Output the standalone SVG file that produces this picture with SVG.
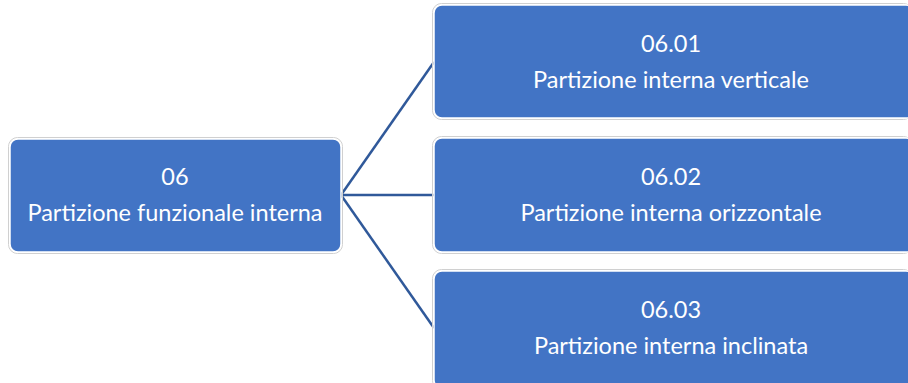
<svg xmlns="http://www.w3.org/2000/svg" width="908" height="383" viewBox="0 0 908 383">
<style>
.box{fill:#4274C5;stroke:#ffffff;stroke-width:1.5}
.halo{fill:none;stroke:#d0d0d0;stroke-width:1}
.t{font-family:Lato,"Liberation Sans",sans-serif;font-size:23.5px;fill:#ffffff;text-anchor:middle}
.c{stroke:#30599A;stroke-width:2.5;fill:none}
</style>
<rect width="908" height="383" fill="#ffffff"/>
<g id="connectors">
<line class="c" x1="341" y1="195" x2="434" y2="62"/>
<line class="c" x1="341" y1="195" x2="434" y2="195"/>
<line class="c" x1="341" y1="195" x2="434" y2="328"/>
</g>
<g id="n06">
<rect class="halo" x="8.5" y="137.5" width="334" height="116" rx="9"/>
<rect class="box" x="10" y="139" width="331" height="113" rx="8"/>
<text class="t" x="175" y="185">06</text>
<text class="t" x="175" y="221">Partizione funzionale interna</text>
</g>
<g id="n0601">
<rect class="halo" x="432.5" y="3.5" width="480" height="116" rx="9"/>
<rect class="box" x="434" y="5" width="480" height="113" rx="8"/>
<text class="t" x="671" y="52">06.01</text>
<text class="t" x="671" y="88">Partizione interna verticale</text>
</g>
<g id="n0602">
<rect class="halo" x="432.5" y="136.5" width="480" height="117" rx="9"/>
<rect class="box" x="434" y="138" width="480" height="114" rx="8"/>
<text class="t" x="671" y="185">06.02</text>
<text class="t" x="671" y="221">Partizione interna orizzontale</text>
</g>
<g id="n0603">
<rect class="halo" x="432.5" y="269.5" width="480" height="120" rx="9"/>
<rect class="box" x="434" y="271" width="480" height="117" rx="8"/>
<text class="t" x="671" y="318">06.03</text>
<text class="t" x="671" y="354">Partizione interna inclinata</text>
</g>
</svg>
